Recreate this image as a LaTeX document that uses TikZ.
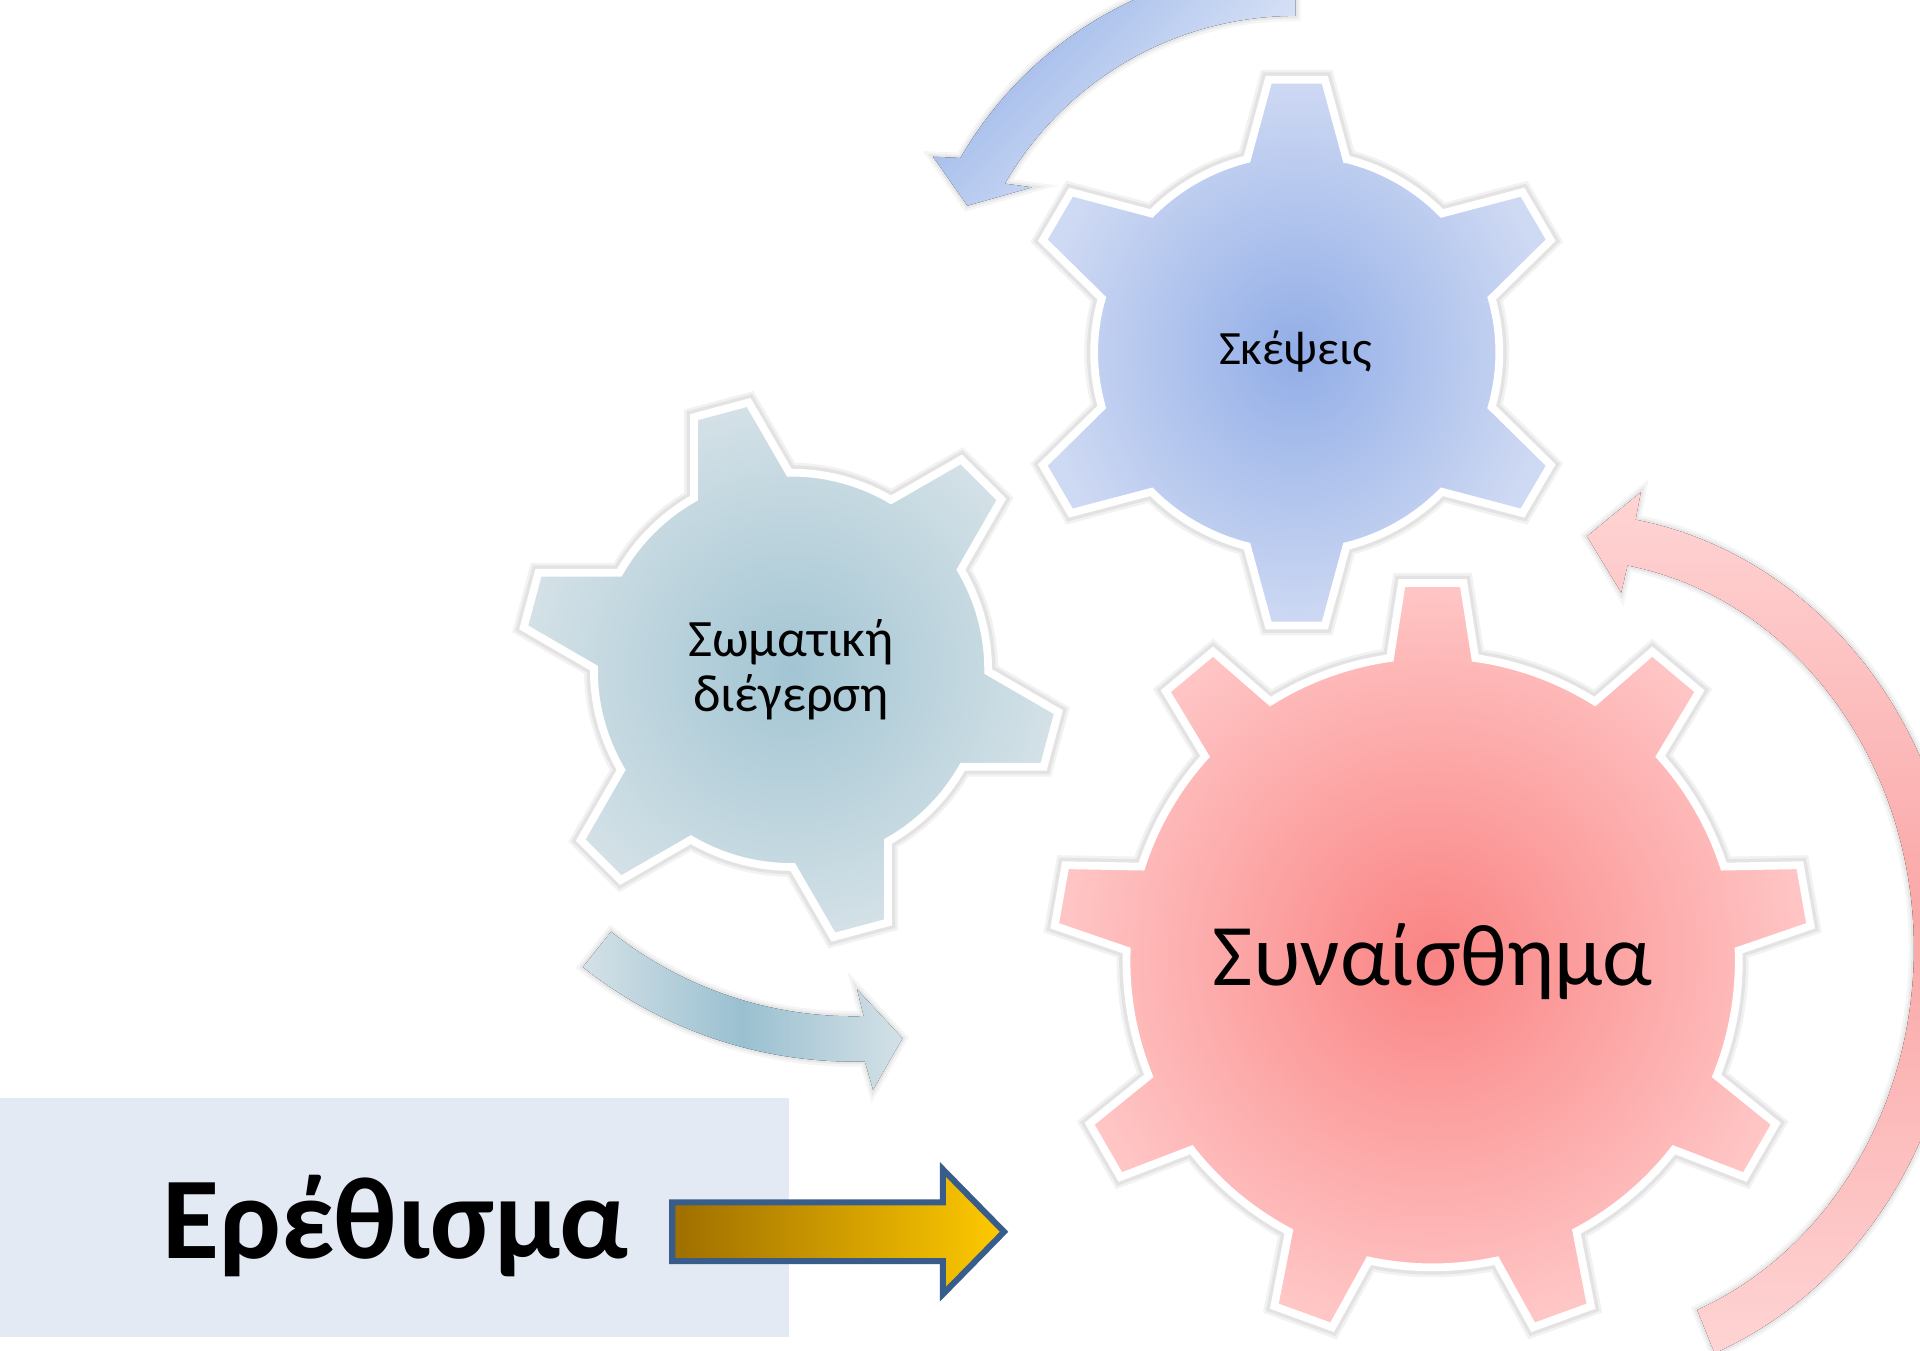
\documentclass[tikz,border=0pt]{standalone}
\usepackage{fontspec}
\setmainfont{Carlito}
\definecolor{thinkc}{RGB}{146,174,231}
\definecolor{thinke}{RGB}{206,217,243}
\definecolor{thinkarc}{RGB}{148,177,232}
\definecolor{bodyc}{RGB}{162,197,211}
\definecolor{bodye}{RGB}{212,225,231}
\definecolor{bodyarc}{RGB}{154,192,208}
\definecolor{feelc}{RGB}{250,132,132}
\definecolor{feele}{RGB}{255,198,198}
\definecolor{feelarc}{RGB}{250,166,166}
\definecolor{feelend}{RGB}{255,212,212}
\definecolor{stimbg}{RGB}{227,234,244}
\definecolor{goldd}{RGB}{158,110,0}
\definecolor{goldl}{RGB}{255,202,0}
\definecolor{edgeblue}{RGB}{56,93,138}

% gear outline: #1 centre, #2 teeth, #3 first tooth angle, #4 body radius,
% #5 tip radius, #6 root half angle, #7 tip half angle, #8 style
\newcommand{\gear}[8]{%
  \draw[shift={#1}, #8] ({#3-#6}:#4)
    \foreach \k in {1,...,#2}{
      -- ({#3+(\k-1)*360/#2-#7}:#5) -- ({#3+(\k-1)*360/#2+#7}:#5)
      -- ({#3+(\k-1)*360/#2+#6}:#4)
      arc[start angle={#3+(\k-1)*360/#2+#6}, delta angle={360/#2-2*#6}, radius=#4]
    } -- cycle;}

\begin{document}
\begin{tikzpicture}[
  x=0.01cm, y=0.01cm,
  gear/.style={draw=white, line width=1.8pt,
    preaction={draw=black, opacity=0.05, line width=4.6pt},
    preaction={draw=black, opacity=0.06, line width=3.4pt}},
  turn/.style={preaction={draw=black, opacity=0.04, line width=2.4pt},
    preaction={draw=black, opacity=0.05, line width=1.2pt}},
  gearlabel/.style={font=\fontsize{11.1}{13}\selectfont, align=center, text=black}
]
\clip (0,0) rectangle (1568,1103);
\fill[white] (0,0) rectangle (1568,1103);

% Stimulus
\fill[stimbg] (0,11) rectangle (644,206);
\node[font=\bfseries\fontsize{27.1}{31}\selectfont, anchor=base] (stimulus) at (323,75) {Ερέθισμα};
\draw[edgeblue, line width=1.4pt, left color=goldd, right color=goldl]
  (549,73) -- (770,73) -- (770,46) -- (820,97) -- (770,148) -- (770,121) -- (549,121) -- cycle;

% Turning arrows
\fill[turn, shift={(1058,816)}, top color=thinkarc, bottom color=thinke!40!white, shading angle=45]
  (90:316) arc[start angle=90, end angle=150, radius=316] -- (-296,159) -- (-268,119) -- (-215,134)
  -- (150:274) arc[start angle=150, end angle=90, radius=274] -- cycle;
\fill[turn, shift={(697,591)}, left color=bodye, right color=bodye, middle color=bodyarc]
  (-128.5:355) arc[start angle=-128.5, end angle=-88.5, radius=355] -- (16,-378) -- (40,-336) -- (3,-296)
  -- (-88.5:318) arc[start angle=-88.5, end angle=-128.5, radius=318] -- cycle;
\fill[turn, shift={(1280,328)}, top color=feelend, bottom color=feelend, middle color=feelarc]
  (-68:321 and 356) arc[start angle=-68, end angle=80, x radius=321, y radius=356] -- (60,373) -- (16,337) -- (44,291)
  -- (80:283 and 318) arc[start angle=80, end angle=-68, x radius=283, y radius=318] -- cycle;

% Gears
\gear{(1059,815)}{6}{90}{163}{224}{14.2}{5.8}{xscale=1.015, gear, inner color=thinkc, outer color=thinke}
\gear{(646,556)}{6}{105}{161}{221}{14.5}{6}{gear, inner color=bodyc, outer color=bodye}
\gear{(1170,318)}{9}{90}{250}{310}{8}{4.65}{gear, inner color=feelc, outer color=feele}

% Labels
\node[gearlabel, anchor=base] (thoughts) at (1058,805) {Σκέψεις};
\node[gearlabel, font=\fontsize{12.2}{12.9}\selectfont] (arousal) at (646,556) {Σωματική\\διέγερση};
\node[font=\fontsize{20.4}{24}\selectfont, anchor=base] (emotion) at (1170,298) {Συναίσθημα};

\end{tikzpicture}
\end{document}
